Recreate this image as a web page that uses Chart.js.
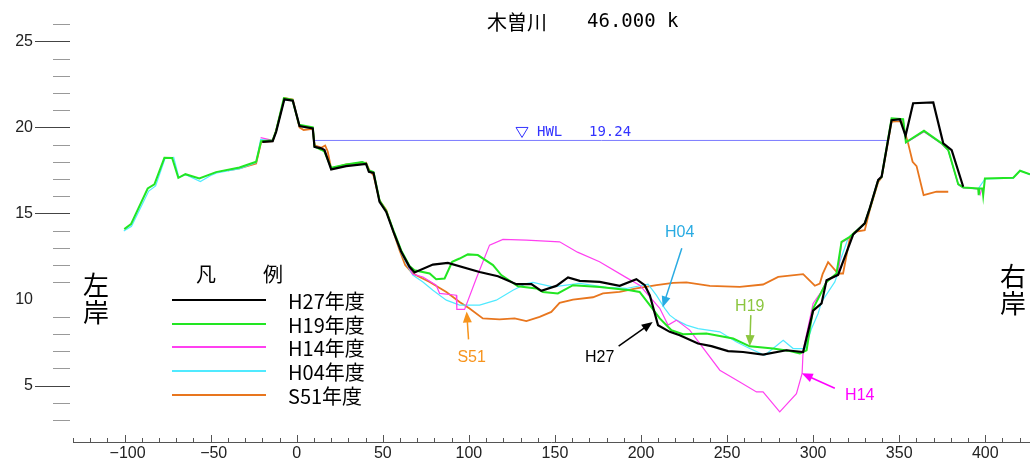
<!DOCTYPE html>
<html>
<head>
<meta charset="utf-8">
<script src="https://cdn.jsdelivr.net/npm/chart.js@4"></script>
<style>
  html, body { margin: 0; padding: 0; background: #fff; }
  #wrap { width: 1030px; height: 462px; }
</style>
</head>
<body>
<div id="wrap"><canvas id="chart" width="1030" height="462"></canvas></div>
<script>
// cross-section survey lines: [distance from left bank (m), elevation (m)]
const h27 = [[-20,19.16],[-14,19.2],[-12,19.74],[-7.2,21.63],[-2.3,21.55],[1.6,20.08],[9.3,19.94],[10.3,18.87],[14.2,18.78],[16.1,18.68],[20,17.56],[28.7,17.75],[40.3,17.87],[41.9,17.42],[44.6,17.36],[48.1,15.67],[52,15.09],[56.2,13.93],[60.7,12.77],[65.5,11.9],[68.4,11.57],[79.1,12.03],[87.8,12.13],[106.2,11.6],[116.9,11.35],[127.6,10.89],[136.3,10.89],[142.1,10.5],[150.8,10.79],[157.6,11.28],[164.4,11.08],[176,11.02],[187.6,10.79],[197.3,11.18],[202.2,10.83],[205.1,10.25],[209.9,8.5],[216.7,8.12],[222.5,7.92],[233.1,7.44],[240.9,7.29],[250.6,7.0],[259.3,6.95],[270.9,6.8],[284.5,7.05],[294.2,6.95],[300,9.35],[304.9,9.77],[307.8,11.12],[314.5,11.43],[323.3,13.78],[330,14.42],[332.9,15.29],[337.8,16.94],[339.8,17.13],[345.6,20.42],[350.4,20.48],[353.7,19.51],[358.1,21.4],[369.8,21.45],[375.6,19.07],[380.5,18.68],[387.2,16.55]];

const h19 = [[-100.2,14.09],[-96.3,14.38],[-86.6,16.45],[-82.7,16.69],[-76.9,18.23],[-72.4,18.22],[-68.8,17.07],[-64.7,17.28],[-56.6,17.03],[-46.9,17.4],[-33.3,17.67],[-23.6,18.0],[-20.7,19.2],[-14,19.25],[-12,19.8],[-7.5,21.7],[-2.5,21.6],[1.4,20.15],[9.3,20.0],[10.3,18.9],[14.2,18.7],[16,18.6],[20,17.65],[28.7,17.85],[38,17.98],[40.3,17.9],[41.9,17.5],[44.6,17.4],[48.1,15.75],[52,15.15],[56.2,14.0],[60.7,12.85],[65.5,11.95],[68.4,11.7],[77.2,11.51],[81,11.18],[85.9,11.22],[90.3,12.19],[94.6,12.38],[99.4,12.62],[105.2,12.58],[114,12.0],[118.8,11.42],[128.5,10.77],[139.2,10.64],[143,10.44],[151.7,10.35],[160.5,10.83],[176,10.73],[193.5,10.54],[199.2,10.44],[205.1,9.67],[210.9,8.9],[217.7,8.21],[224.4,7.98],[238,8.02],[253.5,7.73],[263.2,7.28],[276.7,7.15],[286.5,7.01],[292.3,6.86],[296.2,7.05],[300,9.48],[307.8,11.02],[313.6,11.51],[316.5,13.35],[321.3,13.64],[330,14.42],[332.9,15.29],[337.8,16.94],[339.8,17.13],[345.6,20.52],[352.3,20.48],[353.9,19.13],[364.4,19.8],[374.7,19.07],[378.5,18.68],[384.3,16.7],[387.2,16.51],[395.9,16.45],[396.2,16.06],[396.6,16.45],[398.4,16.45],[398.8,16.06],[399.8,17.03],[416.3,17.07],[420.2,17.48],[426,17.27]];

const h14 = [[-21,19.4],[-14,19.25],[-12,19.8],[-7.2,21.65],[-2.3,21.6],[1.6,20.1],[9.3,19.98],[10.3,18.9],[14.2,18.8],[16.1,18.7],[20,17.6],[28.7,17.8],[38,18.0],[40.3,17.92],[41.9,17.45],[44.6,17.38],[48.1,15.7],[52,15.1],[56.2,13.95],[60.7,12.8],[65.5,11.8],[67.4,11.47],[73.3,11.31],[81,10.83],[83,10.35],[92.7,10.25],[93,9.42],[97.5,9.42],[104.3,11.22],[112,13.16],[119.8,13.49],[133.4,13.45],[152.7,13.35],[163.1,12.75],[175.9,12.19],[191.5,11.27],[199.2,10.83],[205.1,10.15],[210.9,9.49],[215.7,8.51],[220.6,8.8],[228.3,8.22],[245.8,5.89],[257.4,5.21],[267.1,4.63],[270.9,4.63],[280.6,3.47],[290.3,4.53],[293.6,5.7],[294.2,7.05],[300,9.77],[304.5,10.42],[307.8,11.05],[314.5,11.45],[316.5,13.3],[321.3,13.6],[330,14.45],[332.9,15.35],[337.8,17.0],[339.8,17.2],[345.6,20.45],[352.3,20.45],[353.9,19.1],[364.4,19.75],[374.7,19.05],[378.5,18.66],[384.3,16.68],[387.2,16.5],[395.9,16.43],[397,16.1],[398,16.43]];

const h04 = [[-100.5,13.98],[-96,14.25],[-86,16.3],[-82,16.6],[-76.5,18.2],[-71.5,18.25],[-68.5,17.1],[-64.5,17.25],[-56,16.85],[-50,17.2],[-46.5,17.35],[-33,17.6],[-23.6,17.95],[-21,19.3],[-14,19.2],[-12,19.75],[-7.2,21.6],[-2.3,21.55],[1.6,20.05],[9.3,19.95],[10.3,18.85],[14.2,18.75],[16.1,18.65],[20,17.58],[28.7,17.78],[40.3,17.88],[41.9,17.44],[44.6,17.37],[48.1,15.68],[52,15.1],[56.2,13.9],[60.7,12.7],[65.5,11.75],[67.4,11.42],[73.3,11.02],[79.1,10.54],[86.9,9.96],[94.6,9.67],[106.2,9.67],[115.9,9.96],[125.6,10.54],[133.4,10.93],[137.2,10.99],[148.8,10.73],[164.4,10.93],[179.9,10.71],[191.5,10.64],[204.1,10.89],[208.9,10.25],[213.8,9.48],[216.7,9.09],[220.6,8.8],[226.4,8.51],[233.1,8.31],[245.8,8.12],[255.5,7.53],[263.2,7.15],[271.9,6.76],[282.6,7.63],[288.4,7.15],[295.2,7.15],[299.1,8.31],[302.9,9.19],[304.9,9.86],[312.6,11.02],[313.6,11.31],[315.5,12.19],[320.3,13.55],[324.2,13.93],[330,14.4],[332.9,15.27],[337.8,16.92],[339.8,17.1],[345.6,20.4],[352.3,20.45],[353.9,19.1],[364.4,19.76],[374.7,19.05],[378.5,18.66],[384.3,16.68],[387.2,16.49],[395.9,16.43],[399.8,17.0],[416.3,17.05],[420.2,17.5],[426,17.25]];

const s51 = [[-40,17.5],[-33.3,17.62],[-23.6,17.9],[-20.7,19.15],[-14,19.2],[-12,19.8],[-7.2,21.7],[-2.3,21.62],[1.6,20.0],[4,19.85],[9.3,19.92],[10.3,18.95],[14.2,18.82],[16.5,18.95],[18,18.6],[20,17.6],[28.7,17.85],[40.3,17.95],[42,17.55],[44.6,17.2],[48.1,15.75],[52,15.2],[55.8,14.03],[59.7,12.87],[63,12.0],[67.4,11.51],[77.2,11.02],[86.9,10.44],[94.6,9.86],[100.4,9.48],[108.1,8.9],[117.8,8.84],[126.6,8.9],[133.4,8.74],[141.1,8.99],[147.9,9.28],[152.7,9.8],[160.5,9.99],[172.1,10.13],[177.9,10.35],[187.6,10.44],[197.3,10.64],[209,10.83],[218.6,10.97],[226.4,10.99],[240,10.79],[257.4,10.73],[270.9,10.87],[279.7,11.31],[294.2,11.47],[301,10.8],[303.9,10.93],[305.5,11.47],[308.7,12.17],[314.5,11.51],[317.4,11.51],[321.3,13.56],[324.2,13.93],[330,14.03],[332.9,15.2],[337.8,16.82],[339.8,17.1],[345.6,20.33],[351.4,20.37],[355.2,19.07],[357.8,18.0],[360.1,17.75],[364.2,16.06],[371.7,16.26],[378.5,16.26]];

const hwlRange = [10, 344];
const hwlLevel = 19.24;

const seriesNames = ['H27年度', 'H19年度', 'H14年度', 'H04年度', 'S51年度'];
const xTicks = [-100, -50, 0, 50, 100, 150, 200, 250, 300, 350, 400];
const yTicks = [5, 10, 15, 20, 25];

const colors = ['#000000', '#22e622', '#ff40f0', '#50eaff', '#e8761e'];
const widths = [2.2, 2, 1.2, 1.2, 1.8];

const toXY = arr => arr.map(p => ({ x: p[0], y: p[1] }));

// callouts, in data units: label spot, arrow tail, arrow head
const callouts = [
    { text: 'S51', color: '#f7941d', at: [101.6, 6.6], from: [99.8, 7.68], to: [98.7, 9.3] },
    { text: 'H27', color: '#000000', at: [176, 6.6], from: [187, 7.29], to: [206.8, 8.69] },
    { text: 'H04', color: '#29abe2', at: [222.5, 13.9], from: [223.7, 12.98], to: [212.6, 9.55] },
    { text: 'H19', color: '#8cc63f', at: [263.2, 9.6], from: [263.8, 9.09], to: [263.2, 7.29] },
    { text: 'H14', color: '#ff00ff', at: [327.1, 4.44], from: [312.6, 4.84], to: [293.4, 5.71] }
];

function arrow(ctx, x1, y1, x2, y2, color) {
    const a = Math.atan2(y2 - y1, x2 - x1);
    const len = 11, half = 4.5;
    ctx.strokeStyle = color;
    ctx.fillStyle = color;
    ctx.lineWidth = 1.5;
    ctx.beginPath();
    ctx.moveTo(x1, y1);
    ctx.lineTo(x2 - Math.cos(a) * len * 0.8, y2 - Math.sin(a) * len * 0.8);
    ctx.stroke();
    ctx.beginPath();
    ctx.moveTo(x2, y2);
    ctx.lineTo(x2 - Math.cos(a) * len - Math.sin(a) * half, y2 - Math.sin(a) * len + Math.cos(a) * half);
    ctx.lineTo(x2 - Math.cos(a) * len + Math.sin(a) * half, y2 - Math.sin(a) * len - Math.cos(a) * half);
    ctx.closePath();
    ctx.fill();
}

const overlay = {
    id: 'overlay',
    afterDraw(chart) {
        const ctx = chart.ctx;
        const xs = chart.scales.x;
        const ys = chart.scales.y;
        const bottom = chart.chartArea.bottom;
        ctx.save();

        // x axis with inward ticks
        ctx.strokeStyle = '#555';
        ctx.lineWidth = 1;
        ctx.beginPath();
        ctx.moveTo(chart.chartArea.left, bottom + 0.5);
        ctx.lineTo(chart.chartArea.right, bottom + 0.5);
        for (let v = -130; v <= 420; v += 10) {
            const px = Math.round(xs.getPixelForValue(v)) + 0.5;
            const len = v % 50 === 0 ? 7 : 4;
            ctx.moveTo(px, bottom);
            ctx.lineTo(px, bottom - len);
        }
        ctx.stroke();

        ctx.fillStyle = '#222';
        ctx.font = '16px "Liberation Sans", Arial, sans-serif';
        ctx.textAlign = 'center';
        ctx.textBaseline = 'middle';
        xTicks.forEach(v => {
            const label = v < 0 ? '\u2212' + Math.abs(v) : String(v);
            ctx.fillText(label, xs.getPixelForValue(v) + (v < 0 ? 3 : 0), bottom + 12);
        });

        // y axis: free-standing ticks left of the plot
        for (let v = 3; v <= 26; v++) {
            if (v === 10) continue;
            const py = Math.round(ys.getPixelForValue(v)) + 0.5;
            const major = yTicks.includes(v);
            ctx.strokeStyle = major ? '#444' : '#999';
            ctx.beginPath();
            ctx.moveTo(major ? 35 : 53, py);
            ctx.lineTo(70, py);
            ctx.stroke();
        }
        ctx.textAlign = 'right';
        yTicks.forEach(v => ctx.fillText(String(v), 33, ys.getPixelForValue(v)));

        // title
        ctx.fillStyle = '#000';
        ctx.textAlign = 'left';
        ctx.font = '20px "Noto Sans CJK JP", sans-serif';
        ctx.fillText('木曽川', 487, 22);
        ctx.font = '19px "DejaVu Sans Mono", monospace';
        ctx.fillText('46.000 k', 587, 22);

        // HWL marker and label
        const hy = ys.getPixelForValue(hwlLevel);
        ctx.strokeStyle = '#3333ff';
        ctx.lineWidth = 1;
        ctx.beginPath();
        ctx.moveTo(516, hy - 13);
        ctx.lineTo(528, hy - 13);
        ctx.lineTo(522, hy - 3);
        ctx.closePath();
        ctx.stroke();
        ctx.fillStyle = '#3333ff';
        ctx.font = '14px "DejaVu Sans Mono", monospace';
        ctx.fillText('HWL', 537, hy - 8);
        ctx.fillText('19.24', 589, hy - 8);

        // bank labels
        ctx.fillStyle = '#000';
        ctx.font = '26px "Noto Sans CJK JP", sans-serif';
        ctx.textAlign = 'center';
        ctx.fillText('左', 96, 285);
        ctx.fillText('岸', 96, 312);
        ctx.fillText('右', 1013, 276);
        ctx.fillText('岸', 1013, 303);

        // legend
        ctx.font = '20px "Noto Sans CJK JP", sans-serif';
        ctx.textAlign = 'left';
        ctx.fillText('凡', 196, 274);
        ctx.fillText('例', 263, 274);
        const rows = [300, 324, 347, 371, 395];
        seriesNames.forEach((name, i) => {
            ctx.strokeStyle = colors[i];
            ctx.lineWidth = 2.2;
            ctx.beginPath();
            ctx.moveTo(172, rows[i]);
            ctx.lineTo(266, rows[i]);
            ctx.stroke();
            ctx.fillStyle = '#000';
            ctx.fillText(name, 288, rows[i] + 1);
        });

        // callouts
        ctx.font = '16px "Liberation Sans", Arial, sans-serif';
        ctx.textAlign = 'center';
        callouts.forEach(c => {
            const ax = xs.getPixelForValue(c.from[0]), ay = ys.getPixelForValue(c.from[1]);
            const bx = xs.getPixelForValue(c.to[0]), by = ys.getPixelForValue(c.to[1]);
            arrow(ctx, ax, ay, bx, by, c.color);
            ctx.fillStyle = c.color;
            ctx.fillText(c.text, xs.getPixelForValue(c.at[0]), ys.getPixelForValue(c.at[1]));
        });

        ctx.restore();
    }
};

const allSeries = [h27, h19, h14, h04, s51];
const datasets = allSeries.map((s, i) => ({
    label: seriesNames[i],
    data: toXY(s),
    borderColor: colors[i],
    borderWidth: widths[i],
    pointRadius: 0,
    showLine: true,
    tension: 0,
    order: i + 1
}));
datasets.push({
    label: 'HWL',
    data: [{ x: hwlRange[0], y: hwlLevel }, { x: hwlRange[1], y: hwlLevel }],
    borderColor: '#7b7bff',
    borderWidth: 1,
    pointRadius: 0,
    showLine: true,
    order: 10
});

new Chart(document.getElementById('chart'), {
    type: 'scatter',
    data: { datasets },
    options: {
        responsive: false,
        animation: false,
        devicePixelRatio: 1,
        layout: { padding: { left: 73, right: 0, top: 0, bottom: 20 } },
        plugins: {
            legend: { display: false },
            tooltip: { enabled: false }
        },
        scales: {
            x: { type: 'linear', min: -130, max: 426, display: false },
            y: { type: 'linear', min: 1.72, max: 27.4, display: false }
        }
    },
    plugins: [overlay]
});
</script>
</body>
</html>
